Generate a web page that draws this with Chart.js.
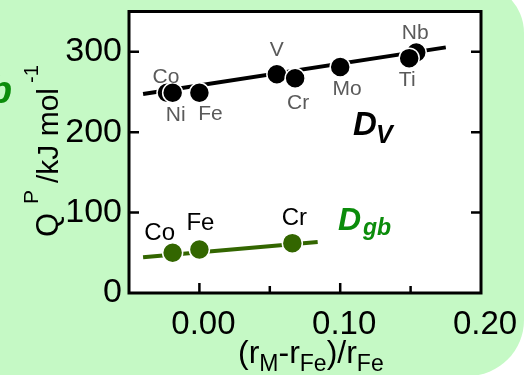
<!DOCTYPE html>
<html><head><meta charset="utf-8">
<style>html,body{margin:0;padding:0;background:#fff;} #wrap{width:527px;height:375px;position:relative;}</style>
<script src="https://cdn.jsdelivr.net/npm/chart.js@4.4.0/dist/chart.umd.min.js"></script>
</head><body><div id="wrap"><canvas id="c"></canvas></div>
<script>
// ---- data ----
const dvNames = ['Co', 'Ni', 'Fe', 'V', 'Cr', 'Mo', 'Nb', 'Ti'];
const dvX = [-0.023, -0.019, 0.000, 0.055, 0.068, 0.100, 0.154, 0.149];
const dvY = [249, 249, 249, 272, 267, 281, 299, 292];
const gbNames = ['Co', 'Fe', 'Cr'];
const gbX = [-0.019, 0.000, 0.066];
const gbY = [50, 54, 62];
const dvFitX = [-0.040, 0.175];
const dvFitY = [247.4, 305.4];
const gbFitX = [-0.040, 0.084];
const gbFitY = [44.4, 63.5];
const yTicks = [0, 100, 200, 300];
const xTicks = ['0.00', '0.10', '0.20'];

// ---- styles ----
const FONT = "'Liberation Sans', Arial, sans-serif";
const GREEN_PT = '#336600';
const GREEN_TXT = '#0b8c0b';
const BG = '#c5f9c5';
const dvLabelDX = [-1, 3, 11, 0, 3, 7, -1, -2];
const dvLabelDY = [-16, 22, 21, -24, 25, 22, -19, 22];
const gbLabelDX = [-13, 1, 2];
const gbLabelDY = [-19, -26, -25];

const pts = (xs, ys) => xs.map((x, i) => ({x, y: ys[i]}));

const decor = {
  id: 'decor',
  beforeDraw(chart) {
    const ctx = chart.ctx, a = chart.chartArea;
    ctx.save();
    ctx.fillStyle = '#fff';
    ctx.fillRect(0, 0, chart.width, chart.height);
    ctx.fillStyle = BG;
    ctx.beginPath();
    ctx.roundRect(-100, -17, 624, 393, [0, 50, 56, 0]);
    ctx.fill();
    ctx.fillStyle = '#fff';
    ctx.fillRect(a.left, a.top, a.right - a.left, a.bottom - a.top);
    // partial label from neighbouring panel
    ctx.fillStyle = GREEN_TXT;
    ctx.font = 'bold italic 38px ' + FONT;
    ctx.textAlign = 'right';
    ctx.textBaseline = 'alphabetic';
    ctx.fillText('b', 12, 103);
    ctx.restore();
  },
  afterDraw(chart) {
    const ctx = chart.ctx, a = chart.chartArea;
    const xs = chart.scales.x, ys = chart.scales.y;
    ctx.save();
    // ticks (inward)
    ctx.strokeStyle = '#000';
    ctx.lineWidth = 2.5;
    ys.ticks.forEach(t => {
      const y = ys.getPixelForValue(t.value);
      if (t.value <= 0 || t.value >= 350) return;
      const len = (Math.round(t.value) % 100 === 0) ? 10 : 8;
      ctx.beginPath();
      ctx.moveTo(a.left, y); ctx.lineTo(a.left + len, y);
      ctx.moveTo(a.right, y); ctx.lineTo(a.right - len, y);
      ctx.stroke();
    });
    xs.ticks.forEach(t => {
      const x = xs.getPixelForValue(t.value);
      if (t.value <= -0.049 || t.value >= 0.199) return;
      const major = Math.abs(t.value * 10 - Math.round(t.value * 10)) < 1e-6;
      const len = major ? 10 : 7;
      ctx.beginPath();
      ctx.moveTo(x, a.bottom); ctx.lineTo(x, a.bottom - len);
      ctx.stroke();
    });
    // frame
    ctx.lineWidth = 3;
    ctx.strokeRect(a.left, a.top, a.right - a.left, a.bottom - a.top);

    // point labels
    ctx.textAlign = 'center';
    ctx.textBaseline = 'middle';
    ctx.font = '21px ' + FONT;
    ctx.fillStyle = '#5a5a5a';
    chart.getDatasetMeta(0).data.forEach((p, i) => {
      ctx.fillText(dvNames[i], p.x + dvLabelDX[i], p.y + dvLabelDY[i]);
    });
    ctx.font = '24px ' + FONT;
    ctx.fillStyle = '#000';
    chart.getDatasetMeta(1).data.forEach((p, i) => {
      ctx.fillText(gbNames[i], p.x + gbLabelDX[i], p.y + gbLabelDY[i]);
    });

    // series labels
    ctx.textAlign = 'left';
    ctx.textBaseline = 'alphabetic';
    ctx.fillStyle = '#000';
    ctx.font = 'bold italic 33px ' + FONT;
    ctx.fillText('D', 353, 135);
    ctx.font = 'bold italic 25px ' + FONT;
    ctx.fillText('V', 376, 143);
    ctx.fillStyle = GREEN_TXT;
    ctx.font = 'bold italic 32px ' + FONT;
    ctx.fillText('D', 338, 230);
    ctx.font = 'bold italic 23px ' + FONT;
    ctx.fillText('gb', 363, 235);

    // x title
    ctx.fillStyle = '#000';
    let x = 238;
    const main = '32px ' + FONT, sub = '23px ' + FONT;
    const parts = [['(', main, 0], ['r', main, 0], ['M', sub, 8], ['-', main, 0], ['r', main, 0], ['Fe', sub, 8], [')', main, 0], ['/', main, 0], ['r', main, 0], ['Fe', sub, 8]];
    parts.forEach(([s, f, dy]) => {
      ctx.font = f;
      ctx.fillText(s, x, 363 + dy);
      x += ctx.measureText(s).width;
    });

    // y title (rotated)
    ctx.translate(58, 237);
    ctx.rotate(-Math.PI / 2);
    ctx.font = '31px ' + FONT;
    ctx.fillText('Q', 0, 0);
    ctx.font = '21px ' + FONT;
    ctx.fillText('P', 33, -20);
    ctx.font = '30px ' + FONT;
    ctx.fillText('/kJ mol', 54, 0);
    ctx.font = '20px ' + FONT;
    ctx.fillText('-1', 154, -20);
    ctx.restore();
  }
};

new Chart(document.getElementById('c'), {
  type: 'scatter',
  data: {
    datasets: [
      { data: pts(dvX, dvY), pointRadius: 10, pointHoverRadius: 10, backgroundColor: '#000', borderColor: '#fff', borderWidth: 1.5, showLine: false },
      { data: pts(gbX, gbY), pointRadius: 10, pointHoverRadius: 10, backgroundColor: GREEN_PT, borderColor: '#fff', borderWidth: 1.5, showLine: false },
      { data: pts(dvFitX, dvFitY), showLine: true, pointRadius: 0, borderColor: '#000', borderWidth: 4, fill: false },
      { data: pts(gbFitX, gbFitY), showLine: true, pointRadius: 0, borderColor: GREEN_PT, borderWidth: 4, fill: false }
    ]
  },
  options: {
    responsive: true,
    maintainAspectRatio: false,
    animation: false,
    events: [],
    layout: { padding: { left: 0, right: 46, top: 11, bottom: 0 } },
    plugins: { legend: { display: false }, tooltip: { enabled: false } },
    scales: {
      x: {
        type: 'linear', min: -0.05, max: 0.2,
        grid: { display: false, drawTicks: false },
        border: { display: false },
        afterFit(s) { s.height = 82; s.paddingLeft = 0; s.paddingRight = 0; },
        ticks: {
          stepSize: 0.05, autoSkip: false, maxRotation: 0, padding: 12, labelOffset: 4,
          color: '#000', font: { family: FONT, size: 33 },
          callback(v) {
            const r = Math.round(v * 10);
            if (Math.abs(v * 10 - r) > 1e-6) return '';
            const s = (r / 10).toFixed(2);
            return xTicks.includes(s) ? s : '';
          }
        }
      },
      y: {
        type: 'linear', min: 0, max: 350,
        grid: { display: false, drawTicks: false },
        border: { display: false },
        afterFit(s) { s.width = 129; s.paddingTop = 0; s.paddingBottom = 0; },
        ticks: {
          stepSize: 50, padding: 7, color: '#000', font: { family: FONT, size: 34 },
          callback(v) { return yTicks.includes(v) ? String(v) : ''; }
        }
      }
    }
  },
  plugins: [decor]
});
</script>
</body></html>
